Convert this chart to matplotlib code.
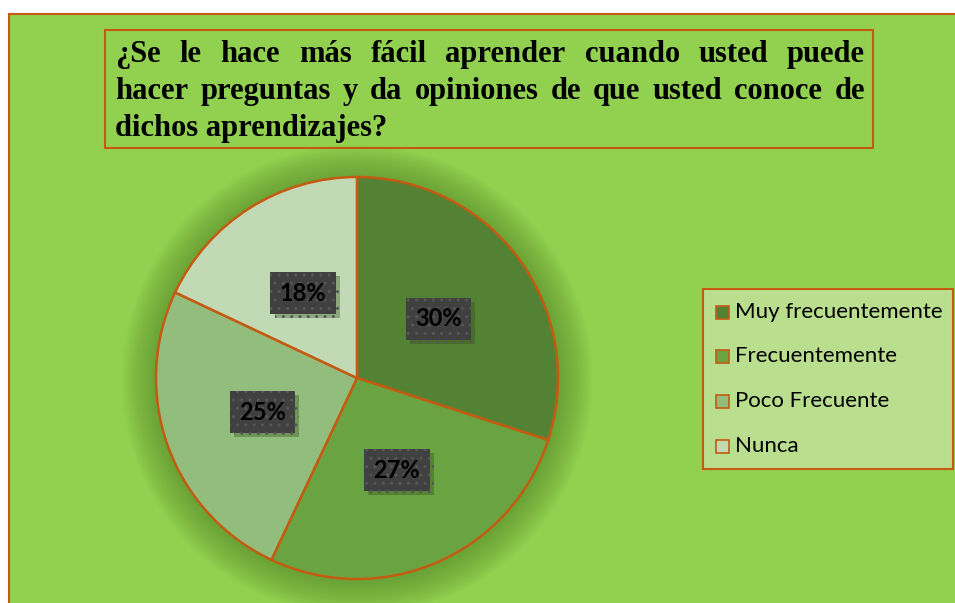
import matplotlib
matplotlib.use("Agg")
import matplotlib.pyplot as plt
from matplotlib.patches import Rectangle, Circle
import matplotlib.patheffects as pe

# ---- data ----
categories = ["Muy frecuentemente", "Frecuentemente", "Poco Frecuente", "Nunca"]
values = [30, 27, 25, 18]
slice_colors = ["#548235", "#6aa442", "#93bd7c", "#c1d9b5"]
title_lines = [
    "¿Se le hace más fácil aprender cuando usted puede",
    "hacer preguntas y da opiniones de  que usted conoce de",
    "dichos aprendizajes?",
]

W, H = 955, 603
DPI = 100
fig = plt.figure(figsize=(W / DPI, H / DPI), dpi=DPI, facecolor="white")

def fx(px):
    return px / W

def fy(py):
    return 1 - py / H

ORANGE = "#c55a11"
BG = "#92d050"

# outer chart area (extends beyond right and bottom edges)
fig.patches.append(Rectangle((fx(9), fy(640)), fx(1000), (640 - 14) / H,
                             transform=fig.transFigure, facecolor=BG,
                             edgecolor=ORANGE, lw=1.5, zorder=0))

# title box
fig.patches.append(Rectangle((fx(105), fy(148)), fx(873 - 105), (148 - 30) / H,
                             transform=fig.transFigure, facecolor=BG,
                             edgecolor=ORANGE, lw=1.5, zorder=1))

# title text, justified
renderer = fig.canvas.get_renderer()
left, right = 115, 865
baselines = [62, 99, 136]
fsize = 22
for i, line in enumerate(title_lines):
    words = line.split()
    if i < 2:
        texts = []
        widths = []
        for w_ in words:
            t = fig.text(0, 0, w_, fontsize=fsize, fontweight="bold",
                         family="Liberation Serif", va="baseline", ha="left", zorder=3)
            bb = t.get_window_extent(renderer=renderer)
            texts.append(t)
            widths.append(bb.width)
        gap = (right - left - sum(widths)) / (len(words) - 1)
        x = left
        for t, wd in zip(texts, widths):
            t.set_position((fx(x), fy(baselines[i])))
            x += wd + gap
    else:
        fig.text(fx(left), fy(baselines[i]), line, fontsize=fsize, fontweight="bold",
                 family="Liberation Serif", va="baseline", ha="left", zorder=3)

# pie axes (larger than the pie so the shadow is not clipped)
cx, cy, R = 357, 378, 201
L = 1.3
ax = fig.add_axes([fx(cx - L * R), fy(cy + L * R), 2 * L * R / W, 2 * L * R / H])
ax.set_zorder(5)
ax.patch.set_visible(False)

# soft shadow
n = 18
for k in range(n):
    r = 1.17 - k * (0.17 / n)
    ax.add_patch(Circle((0.0, -0.01), r, facecolor="#4f7f25", alpha=0.035,
                        lw=0, zorder=0))

wedges, _, autotexts = ax.pie(values, colors=slice_colors, startangle=90,
                              counterclock=False, radius=1.0,
                              autopct=lambda p: f"{p:.0f}%", pctdistance=0.5,
                              wedgeprops=dict(edgecolor=ORANGE, linewidth=1.8),
                              textprops=dict(fontsize=17, fontweight="bold",
                                             family="Lato", color="black"))
ax.set_xlim(-L, L)
ax.set_ylim(-L, L)
ax.set_aspect("equal")
ax.axis("off")
for w in wedges:
    w.set_zorder(2)
for t in autotexts:
    t.set_zorder(5)
    t.set_bbox(dict(boxstyle="square,pad=0.4", facecolor="#404040",
                    edgecolor="#565656", hatch="..", lw=0))
    t.get_bbox_patch().set_path_effects([
        pe.SimplePatchShadow(offset=(3, -3), shadow_rgbFace="#2d4a15", alpha=0.35),
        pe.Normal()])

# legend (manual)
fig.patches.append(Rectangle((fx(703), fy(469)), fx(953 - 703), (469 - 289) / H,
                             transform=fig.transFigure, facecolor="#b9de8e",
                             edgecolor=ORANGE, lw=1.5, zorder=1))
leg_y = [312, 356, 401, 446]
for lab, col, yy in zip(categories, slice_colors, leg_y):
    fig.patches.append(Rectangle((fx(716), fy(yy + 6.5)), fx(13), 13 / H,
                                 transform=fig.transFigure, facecolor=col,
                                 edgecolor=ORANGE, lw=1.2, zorder=2))
    fig.text(fx(735), fy(yy), lab, fontsize=16, family="Lato",
             va="center", ha="left", color="black", zorder=3)

fig.savefig("out.png", dpi=DPI, facecolor="white")
